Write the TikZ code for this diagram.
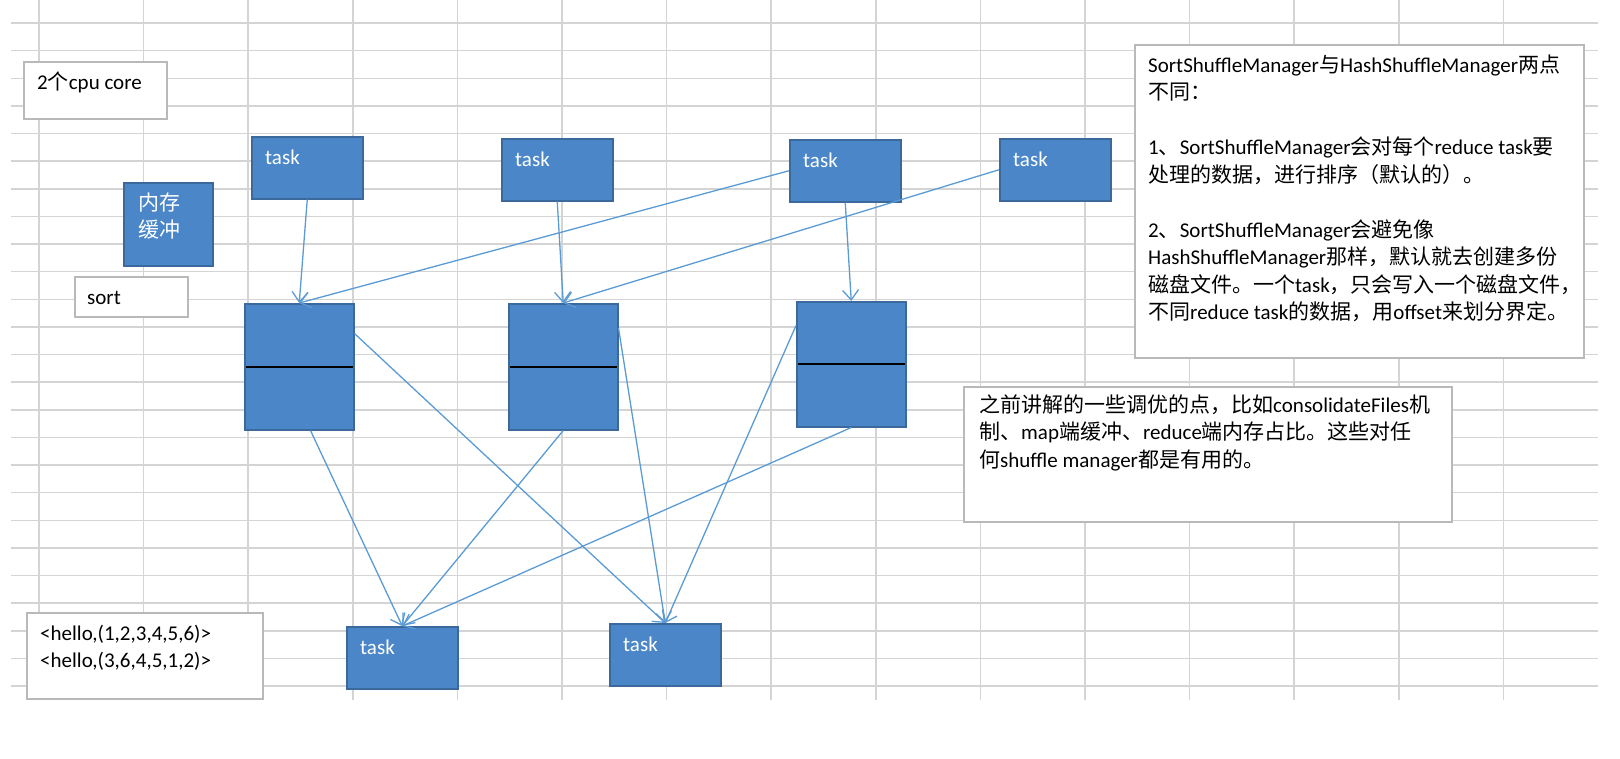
\documentclass[tikz,border=0pt]{standalone}
\usepackage{fontspec}
\setmainfont{Carlito}
\newfontfamily\cjk{Noto Sans CJK SC}
\newcommand\zh[1]{{\cjk #1}}
\newcommand\lnstrut{\rule{0pt}{19pt}}
\usetikzlibrary{arrows.meta}
\definecolor{gridgray}{RGB}{212,212,212}
\definecolor{boxblue}{RGB}{74,134,200}
\definecolor{boxedge}{RGB}{60,105,155}
\definecolor{arrowblue}{RGB}{91,155,213}
\definecolor{notegray}{RGB}{185,185,185}
\tikzset{
        cell/.style={gridgray, line width=1.5pt},
        taskbox/.style={draw=boxedge, fill=boxblue, line width=1.5pt, anchor=north west,
                inner sep=0pt, minimum width=111pt, minimum height=62pt},
        filebox/.style={taskbox, minimum width=109pt, minimum height=126pt,
                path picture={\draw[black, line width=1.6pt] (path picture bounding box.west) -- (path picture bounding box.east);}},
        notebox/.style={draw=notegray, fill=white, line width=1.5pt, anchor=north west, inner sep=0pt},
        boxtext/.style={anchor=north west, inner xsep=14pt, inner ysep=9pt, align=left,
                font=\fontsize{21}{27.5}\selectfont},
        tasktext/.style={boxtext, text=white},
        flow/.style={arrowblue, line width=1.3pt, -{Straight Barb[length=10pt, width=16pt]}}
}
\begin{document}
\begin{tikzpicture}[x=1pt, y=-1pt]
        \useasboundingbox (0,0) rectangle (1620,758);
        % sheet grid
        \foreach \k in {0,...,14}
                \draw[cell] ({39+104.6*\k},0) -- ({39+104.6*\k},700);
        \foreach \k in {0,...,24}
                \draw[cell] (11,{23+27.63*\k}) -- (1598,{23+27.63*\k});
        % notes
        \node[notebox, minimum width=143pt, minimum height=57pt,
                label={[boxtext]north west:{\lnstrut 2\zh{个}cpu core}}] (cores) at (23,61) {};
        \node[taskbox, minimum width=89pt, minimum height=83pt,
                label={[tasktext, inner xsep=15pt]north west:{\lnstrut\zh{内存}\\\zh{缓冲}}}] (buffer) at (123,182) {};
        \node[notebox, minimum width=113pt, minimum height=40pt,
                label={[boxtext, inner xsep=13pt]north west:{\lnstrut sort}}] (sort) at (74,276) {};
        \node[notebox, minimum width=236pt, minimum height=86pt,
                label={[boxtext]north west:{\lnstrut<hello,(1,2,3,4,5,6)>\\<hello,(3,6,4,5,1,2)>}}] (hello) at (26,612) {};
        \node[notebox, minimum width=449pt, minimum height=313pt,
                label={[boxtext]north west:{\lnstrut SortShuffleManager\zh{与}HashShuffleManager\zh{两点}\\
                \zh{不同：}\\[27.5pt]
                1\zh{、}SortShuffleManager\zh{会对每个}reduce task\zh{要}\\
                \zh{处理的数据，进行排序（默认的）。}\\[27.5pt]
                2\zh{、}SortShuffleManager\zh{会避免像}\\
                HashShuffleManager\zh{那样，默认就去创建多份}\\
                \zh{磁盘文件。一个}task\zh{，只会写入一个磁盘文件，}\\
                \zh{不同}reduce task\zh{的数据，用}offset\zh{来划分界定。}}}] (diff) at (1134,44) {};
        \node[notebox, minimum width=488pt, minimum height=135pt,
                label={[boxtext, inner xsep=16pt, inner ysep=7pt]north west:{\lnstrut\zh{之前讲解的一些调优的点，比如}consolidateFiles\zh{机}\\
                \zh{制、}map\zh{端缓冲、}reduce\zh{端内存占比。这些对任}\\
                \zh{何}shuffle manager\zh{都是有用的。}}}] (tuning) at (963,386) {};
        % map tasks
        \node[taskbox, label={[tasktext]north west:{\lnstrut task}}] (t1) at (251,136) {};
        \node[taskbox, label={[tasktext]north west:{\lnstrut task}}] (t2) at (501,138) {};
        \node[taskbox, label={[tasktext]north west:{\lnstrut task}}] (t3) at (789,139) {};
        \node[taskbox, label={[tasktext]north west:{\lnstrut task}}] (t4) at (999,138) {};
        % disk files
        \node[filebox] (f1) at (244,303) {};
        \node[filebox] (f2) at (508,303) {};
        \node[filebox, minimum height=125pt] (f3) at (796,301) {};
        % reduce tasks
        \node[taskbox, label={[tasktext]north west:{\lnstrut task}}] (r1) at (346,626) {};
        \node[taskbox, label={[tasktext]north west:{\lnstrut task}}] (r2) at (609,623) {};
        % connectors
        \draw[flow] (t1.south) -- (f1.north);
        \draw[flow] (t3.west) -- (f1.north);
        \draw[flow] (t2.south) -- (f2.north);
        \draw[flow] (t4.west) -- (f2.north);
        \draw[flow] (t3.south) -- (f3.north);
        \draw[flow] (f1.31) -- (r2.north);
        \draw[flow] (f1.-80) -- (r1.north);
        \draw[flow] (f2.south) -- (r1.north);
        \draw[flow] (f2.35) -- (r2.north);
        \draw[flow] (f3.145) -- (r2.north);
        \draw[flow] (f3.south) -- (r1.north);
\end{tikzpicture}
\end{document}
